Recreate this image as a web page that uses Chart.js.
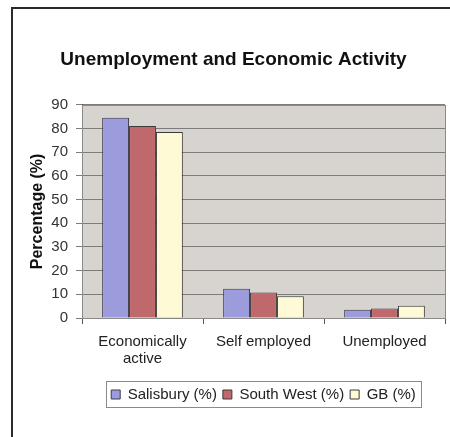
<!DOCTYPE html>
<html><head><meta charset="utf-8">
<script src="https://cdn.jsdelivr.net/npm/chart.js@4.4.1/dist/chart.umd.min.js"></script>
<style>html,body{margin:0;padding:0;background:#fff;overflow:hidden}</style>
</head><body><canvas id="c" width="450" height="437"></canvas>
<script>
const categories = [["Economically", "active"], "Self employed", "Unemployed"];
const seriesNames = ["Salisbury (%)", "South West (%)", "GB (%)"];
const salisbury = [84.5, 12.3, 3.5];
const southWest = [81, 10.8, 4];
const gb = [78.5, 9.2, 5.2];
const yMin = 0, yMax = 90, yStep = 10;

const FONT = "'Liberation Sans', Arial, sans-serif";
const LEG_PAD = 6;

const decor = {
  id: 'decor',
  afterLayout(chart) {
    const a = chart.chartArea;
    const lg = chart.legend;
    if (lg) { lg.left = a.left; lg.right = a.right; lg.width = a.right - a.left; }
    const tb = chart.titleBlock;
    if (tb) { tb.left += 5; tb.right += 5; }
  },
  beforeDraw(chart) {
    const ctx = chart.ctx, a = chart.chartArea;
    ctx.save();
    ctx.fillStyle = '#fff';
    ctx.fillRect(0, 0, chart.width, chart.height);
    ctx.fillStyle = '#D7D3CF';
    ctx.fillRect(a.left, a.top, a.right - a.left, a.bottom - a.top);
    ctx.restore();
  },
  afterDraw(chart) {
    const ctx = chart.ctx, a = chart.chartArea;
    ctx.save();
    ctx.strokeStyle = '#8a8a8a';
    ctx.lineWidth = 1;
    ctx.strokeRect(Math.round(a.left) + 0.5, Math.round(a.top) + 0.5, Math.round(a.right - a.left), Math.round(a.bottom - a.top));
    ctx.strokeStyle = '#2a2a2a';
    ctx.lineWidth = 2;
    ctx.beginPath();
    ctx.moveTo(12, chart.height);
    ctx.lineTo(12, 8);
    ctx.lineTo(chart.width, 8);
    ctx.stroke();
    const lg = chart.legend;
    if (lg && lg.lineWidths && lg.legendHitBoxes && lg.legendHitBoxes.length) {
      const lw = lg.lineWidths[0];
      const sx = (lg.left + LEG_PAD + lg.right - lw) / 2;
      const hb = lg.legendHitBoxes;
      const x0 = sx - 5, x1 = sx + lw - LEG_PAD + 5;
      const y0 = hb[0].top - 6, y1 = hb[0].top + hb[0].height + 5;
      ctx.strokeStyle = '#8a8a8a';
      ctx.lineWidth = 1;
      ctx.strokeRect(Math.round(x0) + 0.5, Math.round(y0) + 0.5, Math.round(x1 - x0), Math.round(y1 - y0));
    }
    ctx.restore();
  }
};

new Chart(document.getElementById('c'), {
  type: 'bar',
  data: {
    labels: categories,
    datasets: [
      { label: seriesNames[0], data: salisbury, backgroundColor: '#9C9CDD', borderColor: '#3a3a4a', borderWidth: 1 },
      { label: seriesNames[1], data: southWest, backgroundColor: '#C0696D', borderColor: '#3a3a3a', borderWidth: 1 },
      { label: seriesNames[2], data: gb, backgroundColor: '#FFFAD6', borderColor: '#3a3a3a', borderWidth: 1 }
    ]
  },
  options: {
    responsive: false,
    animation: false,
    devicePixelRatio: 1,
    layout: { padding: { left: 12, right: 5, top: 0, bottom: 25 } },
    datasets: { bar: { categoryPercentage: 0.667, barPercentage: 1 } },
    plugins: {
      title: {
        display: true,
        text: 'Unemployment and Economic Activity',
        color: '#111',
        font: { family: FONT, size: 19, weight: 'bold', lineHeight: 1.2 },
        padding: { top: 48, bottom: 34 }
      },
      legend: {
        position: 'bottom',
        labels: {
          color: '#222',
          font: { family: FONT, size: 15 },
          boxWidth: 9, boxHeight: 9,
          padding: LEG_PAD
        }
      },
      tooltip: { enabled: false }
    },
    scales: {
      x: {
        afterFit(s) { s.height = 63; },
        grid: { display: true, drawOnChartArea: false, color: '#555', tickLength: 6, offset: true },
        border: { display: true, color: '#555' },
        ticks: { color: '#222', font: { family: FONT, size: 15, lineHeight: 1.13 }, padding: 9, maxRotation: 0, autoSkip: false }
      },
      y: {
        min: yMin, max: yMax,
        afterFit(s) { s.width = 70; },
        grid: { color: '#7c7c7c', tickLength: 6 },
        border: { display: true, color: '#555' },
        ticks: { stepSize: yStep, color: '#333', font: { family: FONT, size: 15 }, padding: 8 },
        title: { display: true, text: 'Percentage (%)', color: '#111', font: { family: FONT, size: 16, weight: 'bold' }, padding: { top: 16, bottom: 0 } }
      }
    }
  },
  plugins: [decor]
});
</script></body></html>
